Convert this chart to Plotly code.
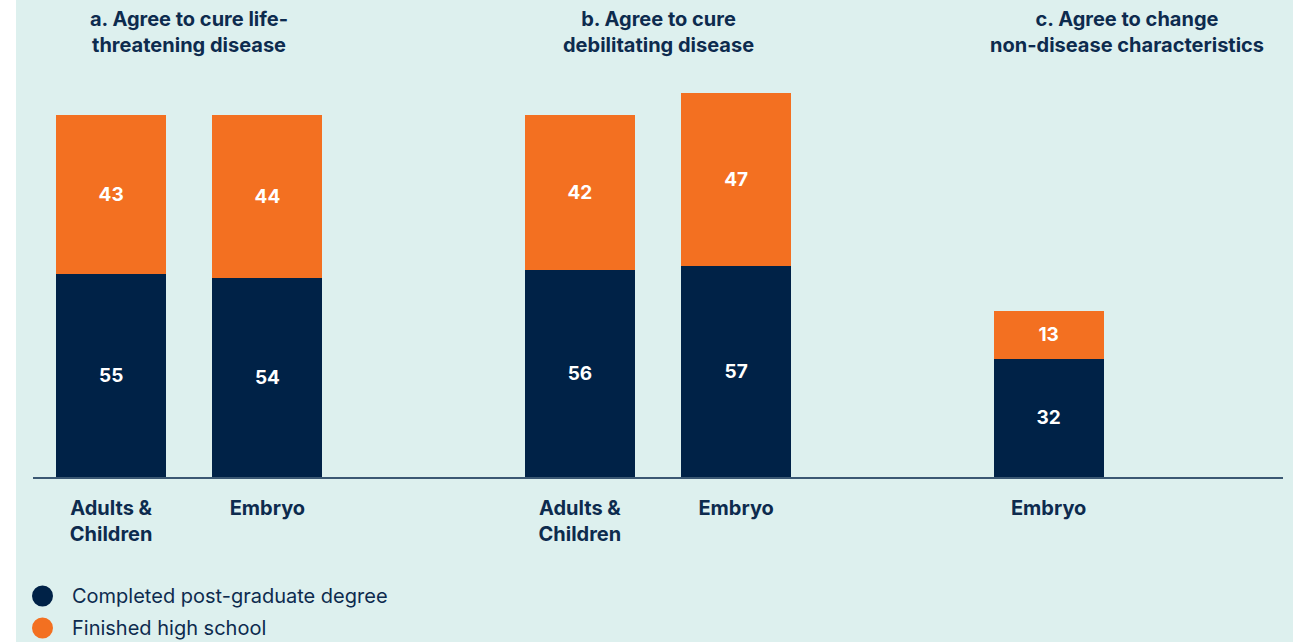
import plotly.graph_objects as go

# Survey shares (%) by education level
positions = [0, 1, 3, 4, 6]
tick_labels = ["Adults &<br>Children", "Embryo", "Adults &<br>Children", "Embryo", "Embryo"]
postgrad = [55, 54, 56, 57, 32]
high_school = [43, 44, 42, 47, 13]

panel_titles = [
    "a. Agree to cure life-<br>threatening disease",
    "b. Agree to cure<br>debilitating disease",
    "c. Agree to change<br>non-disease characteristics",
]
panel_centers = [0.5, 3.5, 6.5]

series_names = ["Completed post-graduate degree", "Finished high school"]

NAVY = "#002247"
ORANGE = "#f37021"
BG = "#ddf0ee"
TEXT = "#0d2b4e"
FONT = "Inter"

W, H = 1293, 642
ML, MR, MT, MB = 33, 10, 70, 165
plot_h = H - MT - MB
y_max = plot_h * 98 / 362.0

fig = go.Figure()
for vals, color in [(postgrad, NAVY), (high_school, ORANGE)]:
    fig.add_trace(go.Bar(
        x=positions, y=vals, width=0.703,
        marker=dict(color=color, line=dict(width=0)),
        text=[str(v) for v in vals],
        textposition="inside", insidetextanchor="middle",
        textfont=dict(family=FONT, size=19, color="white", weight=700),
        showlegend=False, hoverinfo="skip",
    ))

def px_to_paper_x(px):
    return (px - ML) / (W - ML - MR)

def py_to_paper_y(py):
    return (H - MB - py) / plot_h

shapes = [
    # panel background (leaves a white strip on the left)
    dict(type="rect", xref="paper", yref="paper", layer="below",
         x0=px_to_paper_x(16), x1=px_to_paper_x(W + 5),
         y0=py_to_paper_y(H + 5), y1=py_to_paper_y(-5),
         fillcolor=BG, line=dict(width=0)),
]
annotations = []
for title, cx in zip(panel_titles, panel_centers):
    annotations.append(dict(
        x=cx, xref="x", y=py_to_paper_y(32), yref="paper",
        text=title, showarrow=False, xanchor="center", yanchor="middle",
        font=dict(family=FONT, size=20, color=TEXT, weight=700),
    ))

# legend
for i, (name, color) in enumerate(zip(series_names, [NAVY, ORANGE])):
    cy = 596 + 32 * i
    shapes.append(dict(
        type="circle", xref="paper", yref="paper",
        x0=px_to_paper_x(32), x1=px_to_paper_x(53),
        y0=py_to_paper_y(cy + 10.5), y1=py_to_paper_y(cy - 10.5),
        fillcolor=color, line=dict(width=0),
    ))
    annotations.append(dict(
        x=px_to_paper_x(70), xref="paper", y=py_to_paper_y(cy), yref="paper",
        text=name, showarrow=False, xanchor="left", yanchor="middle",
        font=dict(family=FONT, size=20, color=TEXT),
    ))

fig.update_layout(
    width=W, height=H,
    margin=dict(l=ML, r=MR, t=MT, b=MB, pad=0),
    barmode="stack",
    paper_bgcolor="white", plot_bgcolor="rgba(0,0,0,0)",
    shapes=shapes, annotations=annotations,
    xaxis=dict(
        range=[-0.5, 7.5], tickvals=positions, ticktext=tick_labels,
        showgrid=False, zeroline=False, ticks="",
        showline=True, linecolor="#3b5873", linewidth=2,
        ticklabelstandoff=12,
        tickfont=dict(family=FONT, size=20, color=TEXT, weight=700),
        fixedrange=True,
    ),
    yaxis=dict(range=[0, y_max], visible=False, fixedrange=True),
    font=dict(family=FONT),
)

fig.write_html("out.html")
